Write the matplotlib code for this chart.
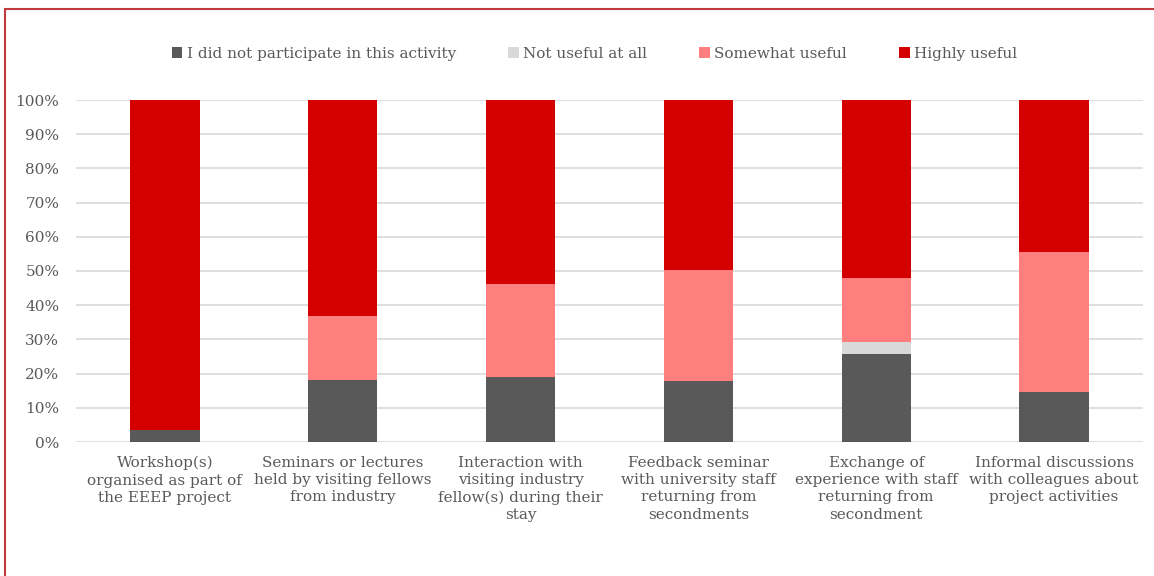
import numpy as np
import matplotlib.pyplot as plt
from matplotlib.patches import Rectangle

# Share of respondents per answer, in percent
activities = [
    'Workshop(s)\norganised as part of\nthe EEEP project',
    'Seminars or lectures\nheld by visiting fellows\nfrom industry',
    'Interaction with\nvisiting industry\nfellow(s) during their\nstay',
    'Feedback seminar\nwith university staff\nreturning from\nsecondments',
    'Exchange of\nexperience with staff\nreturning from\nsecondment',
    'Informal discussions\nwith colleagues about\nproject activities',
]
did_not_participate = [3.5, 18.1, 19.0, 17.8, 25.8, 14.7]
not_useful = [0.0, 0.0, 0.0, 0.0, 3.4, 0.0]
somewhat_useful = [0.0, 18.7, 27.2, 32.5, 18.8, 40.9]
highly_useful = [96.5, 63.2, 53.8, 49.7, 52.0, 44.4]

series = [
    ('I did not participate in this activity', did_not_participate, '#595959'),
    ('Not useful at all', not_useful, '#d9d9d9'),
    ('Somewhat useful', somewhat_useful, '#ff7f7f'),
    ('Highly useful', highly_useful, '#d40000'),
]

plt.rcParams['font.family'] = ['DejaVu Serif']

fig = plt.figure(figsize=(11.54, 5.76), dpi=100)
ax = fig.add_axes([76 / 1154, 1 - 442 / 576, (1143 - 76) / 1154, 342 / 576])

x = np.arange(len(activities))
bottom = np.zeros(len(activities))
for label, vals, color in series:
    ax.bar(x, vals, 0.39, bottom=bottom, color=color, label=label, zorder=3)
    bottom += np.array(vals)

ax.set_xlim(-0.5, len(activities) - 0.5)
ax.set_ylim(0, 100)
ax.set_yticks(np.arange(0, 101, 10))
ax.set_yticklabels([f'{v}%' for v in range(0, 101, 10)])
ax.set_xticks(x)
ax.set_xticklabels(activities, linespacing=1.3)
ax.tick_params(axis='both', length=0, labelsize=11, colors='#595959')
ax.tick_params(axis='x', pad=10)
ax.tick_params(axis='y', pad=12)
ax.grid(axis='y', color='#d9d9d9', linewidth=1.2, zorder=0)
for s in ax.spines.values():
    s.set_visible(False)

ax.legend(loc='center', bbox_to_anchor=(0.486, 1.135), ncol=4, frameon=False,
          fontsize=11, handlelength=0.7, handleheight=0.7, handletextpad=0.3,
          columnspacing=3.4, labelcolor='#595959')

# red frame around the figure panel
fig.patches.append(Rectangle((5 / 1154, -0.05), 1.2, 1 - 9 / 576 + 0.05,
                             transform=fig.transFigure, fill=False,
                             edgecolor='#c0393b', linewidth=1.5))

fig.savefig('out.png', dpi=100)
